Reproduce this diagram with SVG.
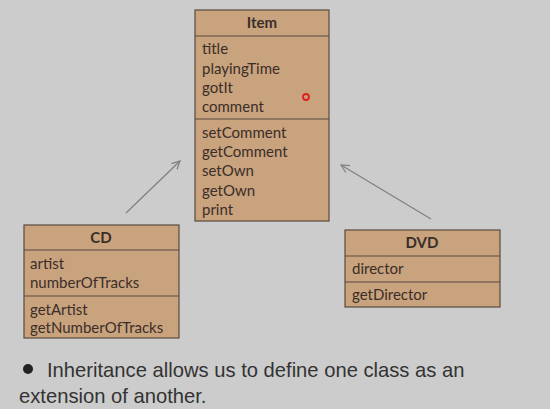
<svg xmlns="http://www.w3.org/2000/svg" width="550" height="409" viewBox="0 0 550 409">
<defs>
<style>
.box{fill:#c9a27e;stroke:#5a4a40;stroke-width:1.2}
.sep{stroke:#5a4a40;stroke-width:1.2}
.t{font-family:Lato,"Open Sans",sans-serif;font-size:15px;fill:#3a2e28}
.h{font-family:Lato,"Open Sans",sans-serif;font-size:15px;font-weight:bold;fill:#3a2e28;text-anchor:middle}
.c{stroke:#808080;stroke-width:1.2;fill:none;marker-end:url(#a)}
.b{font-family:"Liberation Sans",Arial,sans-serif;font-size:20.2px;fill:#333}
</style>
<marker id="a" markerWidth="10" markerHeight="10" refX="9" refY="5" orient="auto" markerUnits="userSpaceOnUse">
<path d="M1,1 L9,5 L1,9" fill="none" stroke="#808080" stroke-width="1.2"/>
</marker>
</defs>
<rect width="550" height="409" fill="#cccccc"/>
<g id="connectors">
<line class="c" x1="126" y1="213" x2="180" y2="161"/>
<line class="c" x1="431" y1="219" x2="341" y2="165"/>
</g>
<g id="item">
<rect class="box" x="195" y="10" width="134" height="211"/>
<line class="sep" x1="195" y1="36" x2="329" y2="36"/>
<line class="sep" x1="195" y1="119" x2="329" y2="119"/>
<text class="h" x="262" y="28">Item</text>
<text class="t" x="202" y="54">title</text>
<text class="t" x="202" y="74">playingTime</text>
<text class="t" x="202" y="93">gotIt</text>
<text class="t" x="202" y="112">comment</text>
<text class="t" x="202" y="138">setComment</text>
<text class="t" x="202" y="157">getComment</text>
<text class="t" x="202" y="176">setOwn</text>
<text class="t" x="202" y="196">getOwn</text>
<text class="t" x="202" y="215">print</text>
<circle cx="306" cy="97" r="3" fill="none" stroke="#e02020" stroke-width="1.8"/>
</g>
<g id="cd">
<rect class="box" x="24" y="225" width="155" height="113"/>
<line class="sep" x1="24" y1="250" x2="179" y2="250"/>
<line class="sep" x1="24" y1="296" x2="179" y2="296"/>
<text class="h" x="101" y="243">CD</text>
<text class="t" x="30" y="269">artist</text>
<text class="t" x="30" y="288">numberOfTracks</text>
<text class="t" x="30" y="315">getArtist</text>
<text class="t" x="30" y="333">getNumberOfTracks</text>
</g>
<g id="dvd">
<rect class="box" x="345" y="230" width="155" height="77"/>
<line class="sep" x1="345" y1="256" x2="500" y2="256"/>
<line class="sep" x1="345" y1="282" x2="500" y2="282"/>
<text class="h" x="422" y="248">DVD</text>
<text class="t" x="352" y="274">director</text>
<text class="t" x="352" y="300">getDirector</text>
</g>
<circle cx="28" cy="369" r="5" fill="#222"/>
<text class="b" x="47" y="377">Inheritance allows us to define one class as an</text>
<text class="b" x="19" y="403">extension of another.</text>
</svg>
